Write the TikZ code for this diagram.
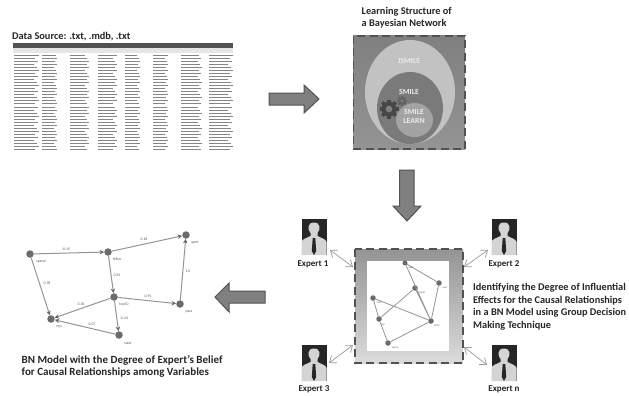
\documentclass[tikz,border=0pt]{standalone}
\usepackage{fontspec}
\setmainfont{Carlito}
\usetikzlibrary{arrows.meta}
\definecolor{arrowgray}{gray}{0.5}
\definecolor{arrowedge}{gray}{0.32}
\definecolor{nodegray}{gray}{0.42}
\definecolor{edgegray}{gray}{0.58}
\definecolor{txtgray}{gray}{0.15}
\tikzset{
  capt/.style={font=\bfseries\fontsize{10.3}{12.5}\selectfont,text=txtgray,align=left,inner sep=0pt},
  bn/.style={circle,fill=nodegray,minimum size=#1,inner sep=0pt},
  bn/.default=7.5pt,
  edge/.style={draw=edgegray,line width=1pt,-{Stealth[length=4.5pt,width=4.5pt,color=black!60]}},
  plain/.style={draw=edgegray,line width=0.8pt},
  lab/.style={font=\fontsize{3.8}{4}\selectfont,text=black!65,inner sep=0.5pt},
  tinylab/.style={font=\fontsize{2.5}{3}\selectfont,text=black!65,inner sep=0.5pt},
  dbl/.style={draw=black!40,line width=0.7pt,{Straight Barb[length=6pt,width=9pt]}-{Straight Barb[length=6pt,width=9pt]}},
  dashbox/.style={draw=black!68,line width=1.6pt,dash pattern=on 8pt off 4.5pt},
  exptxt/.style={font=\bfseries\fontsize{9}{10}\selectfont,text=txtgray,inner sep=0pt},
  smile/.style={font=\bfseries\fontsize{7.8}{8.8}\selectfont,text=white!92!black,align=center,inner sep=0pt},
  blockarrow/.style={fill=arrowgray,draw=arrowedge,line width=1pt,line join=miter}
}
\newcommand{\expertfig}[3]{%
  \node[minimum width=25pt,minimum height=36pt,inner sep=0pt,fill=black!85] (#1) at (#2,#3) {};
  \fill[black!17] (#2-12.5,#3+18) -- (#2-12.5,#3+5) .. controls (#2-12,#3+2) and (#2-7,#3+1) .. (#2-3.5,#3-1)
    -- (#2-3.5,#3-4) .. controls (#2-6.5,#3-7) and (#2-7,#3-14.5) .. (#2,#3-14.5)
    .. controls (#2+7,#3-14.5) and (#2+6.5,#3-7) .. (#2+3.5,#3-4) -- (#2+3.5,#3-1)
    .. controls (#2+7,#3+1) and (#2+12,#3+2) .. (#2+12.5,#3+5) -- (#2+12.5,#3+18) -- cycle;
  \fill[black!85] (#2-1.3,#3+1) -- (#2+1.3,#3+1) -- (#2+2.2,#3+14) -- (#2,#3+18) -- (#2-2.2,#3+14) -- cycle;
}
\newcommand{\gearshape}[4]{%
  \fill[#4] (#1,#2) circle (#3*0.78);
  \foreach \a in {0,45,...,315}{\fill[#4,rotate around={\a:(#1,#2)}] (#1-#3*0.2,#2) rectangle (#1+#3*0.2,#2-#3);}
  \fill[black!50] (#1,#2) circle (#3*0.35);
}
\begin{document}
\begin{tikzpicture}[x=1pt,y=-1pt]
\useasboundingbox (0,0) rectangle (629,396);
\fill[white] (0,0) rectangle (629,396);

% data table
\node[capt,anchor=west] (datatitle) at (12,36.5) {Data Source: .txt, .mdb, .txt};
\fill[black!68] (13,43) rectangle (233,48);
\fill[black!10] (13,48) rectangle (233,53);
\foreach \xa/\xb in {14/39,42/57,70/89,98/117,125/140,153/168,181/202,209/233}{
  \foreach \r in {0,...,31}{
    \draw[black!48,line width=1pt,dash pattern=on 1.6pt off 0.4pt] (\xa,{55.5+\r*3.03}) -- ({\xa+(\xb-\xa)*(0.8+0.2*mod(\r*7+\xa,5)/4)},{55.5+\r*3.03});
  }
}

% block arrows
\draw[blockarrow] (269,93) -- (304,93) -- (304,85) -- (319,99) -- (304,113) -- (304,105) -- (269,105) -- cycle;
\draw[blockarrow] (399.5,170) -- (414,170) -- (414,206) -- (421,206) -- (407,221) -- (393,206) -- (399.5,206) -- cycle;
\draw[blockarrow] (265,291) -- (229,291) -- (229,283) -- (215,297) -- (229,312) -- (229,303) -- (265,303) -- cycle;

% Bayesian network learning
\node[capt,anchor=north west] (learn) at (361.5,7) {Learning Structure of\\a Bayesian Network};
\shade[top color=black!50,bottom color=black!42] (353,36) rectangle (465,149);
\fill[black!24] (410,92) ellipse (45 and 52);
\fill[black!52] (410,108) ellipse (33 and 36);
\fill[black!36] (414.5,120) ellipse (18.5 and 17);
\draw[dashbox] (353.5,36) rectangle (465,149);
\node[smile] (jsmile) at (409,61) {JSMILE};
\node[smile] (smile) at (409,92) {SMILE};
\node[smile] (smilelearn) at (414,116.5) {SMILE\\LEARN};
\gearshape{389}{109}{9.5}{black!72}
\gearshape{402}{101}{4.8}{black!62}

% experts
\expertfig{e1}{314}{237}
\expertfig{e2}{504}{237}
\expertfig{e3}{314}{363}
\expertfig{en}{504}{363}
\node[exptxt] (e1t) at (313,264) {Expert 1};
\node[exptxt] (e2t) at (504,264) {Expert 2};
\node[exptxt] (e3t) at (314,389) {Expert 3};
\node[exptxt] (ent) at (504,389) {Expert n};

% central box
\shade[top color=black!42,bottom color=black!14] (355,249) rectangle (463,363);
\fill[white] (367,261) rectangle (449,351);
\draw[dashbox] (355,249) rectangle (463,363);
\coordinate (bl) at (353,267);
\coordinate (tr) at (464,267);
\coordinate (brl) at (353,345);
\coordinate (brr) at (464,347);
\coordinate (a1) at (330,250);
\coordinate (a2) at (488,250);
\coordinate (a3) at (329,363);
\coordinate (a4) at (487,365);
\draw[dbl] (a1) -- (bl);
\draw[dbl] (a2) -- (tr);
\draw[dbl] (a3) -- (brl);
\draw[dbl] (a4) -- (brr);

% small graph
\node[bn=5pt] (s1) at (405,263) {};
\node[bn=5.5pt] (s2) at (439,283) {};
\node[bn=5.5pt] (s3) at (415,288) {};
\node[bn=5.5pt] (s4) at (373,298) {};
\node[bn=5.5pt] (s5) at (431,321) {};
\node[bn=5.5pt] (s6) at (379,319) {};
\node[bn=5.5pt] (s7) at (388,343) {};
\draw[plain] (s1) -- (s2) (s1) -- (s5) (s2) -- (s5) (s3) -- (s5) (s3) -- (s6) (s4) -- (s5) (s4) -- (s6) (s6) -- (s7) (s5) -- (s7);
\node[tinylab] (sl1) at (411,268) {apnt};
\node[tinylab] (sl2) at (445,288) {pacs};
\node[tinylab] (sl3) at (422,293) {top10};
\node[tinylab] (sl4) at (379,303) {salar};
\node[tinylab] (sl5) at (437,326) {fellos};
\node[tinylab] (sl6) at (383,325) {rep};
\node[tinylab] (sl7) at (395,348) {spend};

% description
\node[capt,anchor=north west] (desc) at (473,283.5) {Identifying the Degree of Influential\\Effects for the Causal Relationships\\in a BN Model using Group Decision\\Making Technique};

% BN model
\node[bn] (spend) at (30,254) {};
\node[bn] (fellos) at (108,252) {};
\node[bn] (apnt) at (186,235) {};
\node[bn] (top) at (114,297) {};
\node[bn] (pacs) at (180,304) {};
\node[bn] (rep) at (51,319) {};
\node[bn] (salar) at (119,335) {};
\draw[edge] (spend) -- (fellos);
\draw[edge] (fellos) -- (apnt);
\draw[edge] (spend) -- (rep);
\draw[edge] (fellos) -- (top);
\draw[edge] (pacs) -- (apnt);
\draw[edge] (top) -- (pacs);
\draw[edge] (top) -- (rep);
\draw[edge] (top) -- (salar);
\draw[edge] (salar) -- (rep);
\node[lab] (l1) at (66,249) {-0.19};
\node[lab] (l2) at (144,239) {0.18};
\node[lab] (l3) at (47,283) {0.78};
\node[lab] (l4) at (117,275) {0.81};
\node[lab] (l5) at (188,271) {1.0};
\node[lab] (l6) at (148,296) {0.91};
\node[lab] (l7) at (81,304) {0.30};
\node[lab] (l8) at (124,318) {-0.24};
\node[lab] (l9) at (92,324) {0.07};
\node[lab] (nl1) at (41,261.5) {spend};
\node[lab] (nl2) at (117,259.5) {fellos};
\node[lab] (nl3) at (195,242.5) {apnt};
\node[lab] (nl4) at (124,305) {top10};
\node[lab] (nl5) at (189,311.5) {pacs};
\node[lab] (nl6) at (59,327) {rep};
\node[lab] (nl7) at (128,343) {salar};
\node[capt,anchor=north west,font=\bfseries\fontsize{11}{12}\selectfont] (bncap) at (21.5,355) {BN Model with the Degree of Expert’s Belief\\for Causal Relationships among Variables};
\end{tikzpicture}
\end{document}
